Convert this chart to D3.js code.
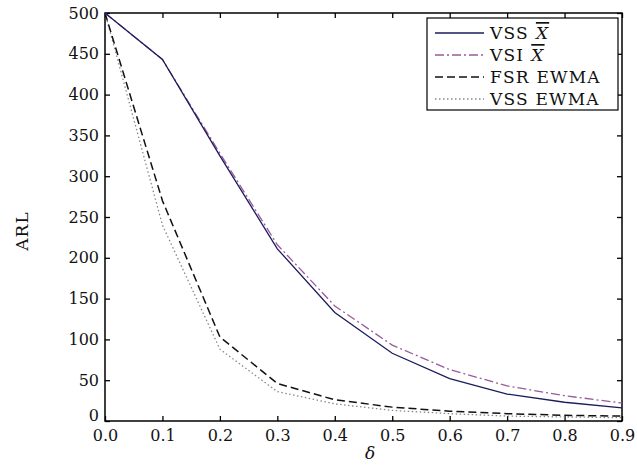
<!DOCTYPE html>
<html>
<head>
<meta charset="utf-8">
<script src="https://cdn.jsdelivr.net/npm/d3@7"></script>
<style>
  body { margin: 0; background: #fff; }
  svg { display: block; font-family: "DejaVu Serif", serif; }
</style>
</head>
<body>
<div id="chart"></div>
<script>
// shift values on the x axis
var deltas = [0, 0.1, 0.2, 0.3, 0.4, 0.5, 0.6, 0.7, 0.8, 0.9];

// ARL for each scheme
var vssX = [500, 443, 325, 211, 133, 83, 52, 33, 23, 16];
var vsiX = [500, 443, 328, 216, 141, 93, 63, 43, 31, 22];
var fsrEwma = [500, 270, 103, 46, 26, 17, 12, 9, 7, 6];
var vssEwma = [500, 240, 88, 36, 21, 13, 9, 6, 5, 4];

var xTicks = [0, 0.1, 0.2, 0.3, 0.4, 0.5, 0.6, 0.7, 0.8, 0.9];
var yTicks = [0, 50, 100, 150, 200, 250, 300, 350, 400, 450, 500];

var series = [
    {name: 'VSS', bar: true, values: vssX, color: '#1c1c5c', dash: null, width: 1.3},
    {name: 'VSI', bar: true, values: vsiX, color: '#9a5a9a', dash: '9,3,2,3', width: 1.3},
    {name: 'FSR EWMA', bar: false, values: fsrEwma, color: '#111', dash: '8,4', width: 1.5},
    {name: 'VSS EWMA', bar: false, values: vssEwma, color: '#888', dash: '1.5,2.5', width: 1.3}
];

var width = 637, height = 465;
var margin = {left: 105, right: 15, top: 13, bottom: 44};
var innerW = width - margin.left - margin.right,
    innerH = height - margin.top - margin.bottom;

var svg = d3.select('#chart').append('svg')
    .attr('width', width)
    .attr('height', height);

var g = svg.append('g')
    .attr('transform', 'translate(' + margin.left + ',' + margin.top + ')');

var x = d3.scaleLinear().domain([0, 0.9]).range([0, innerW]);
var y = d3.scaleLinear().domain([0, 500]).range([innerH, 0]);

// frame
g.append('rect')
    .attr('width', innerW)
    .attr('height', innerH)
    .attr('fill', 'none')
    .attr('stroke', '#000')
    .attr('stroke-width', 1.5);

// axes with inward ticks
var xAxis = g.append('g')
    .attr('transform', 'translate(0,' + innerH + ')')
    .call(d3.axisBottom(x).tickValues(xTicks).tickFormat(d3.format('.1f')).tickSizeInner(-5).tickSizeOuter(0).tickPadding(9));
var xTop = g.append('g')
    .call(d3.axisTop(x).tickValues(xTicks).tickSizeInner(-5).tickSizeOuter(0).tickFormat(''));
var yAxis = g.append('g')
    .call(d3.axisLeft(y).tickValues(yTicks).tickSizeInner(-5).tickSizeOuter(0).tickPadding(6));
var yRight = g.append('g')
    .attr('transform', 'translate(' + innerW + ',0)')
    .call(d3.axisRight(y).tickValues(yTicks).tickSizeInner(-5).tickSizeOuter(0).tickFormat(''));

[xAxis, xTop, yAxis, yRight].forEach(function (a) {
    a.select('.domain').remove();
    a.selectAll('line').attr('stroke', '#000').attr('stroke-width', 1.3);
    a.selectAll('text').attr('font-family', '"DejaVu Serif", serif').attr('font-size', 16).attr('fill', '#111');
});

// the "0" label sits a little higher, clear of "0.0"
yAxis.selectAll('.tick text').filter(function (d) { return d === 0; }).attr('dy', '-0.05em');

// lines
var line = d3.line()
    .x(function (d, i) { return x(deltas[i]); })
    .y(function (d) { return y(d); });

series.slice().reverse().forEach(function (s) {
    g.append('path')
        .datum(s.values)
        .attr('d', line)
        .attr('fill', 'none')
        .attr('stroke', s.color)
        .attr('stroke-width', s.width)
        .attr('stroke-dasharray', s.dash);
});

// axis titles
svg.append('text')
    .attr('transform', 'translate(28,231) rotate(-90)')
    .attr('text-anchor', 'middle')
    .attr('font-size', 17)
    .attr('letter-spacing', 1)
    .attr('fill', '#111')
    .text('ARL');

svg.append('text')
    .attr('x', 370)
    .attr('y', 459)
    .attr('text-anchor', 'middle')
    .attr('font-size', 17)
    .attr('font-style', 'italic')
    .attr('fill', '#111')
    .text('δ');

// legend
var legend = svg.append('g').attr('transform', 'translate(427,18)');
legend.append('rect')
    .attr('width', 191)
    .attr('height', 92)
    .attr('fill', '#fff')
    .attr('stroke', '#000')
    .attr('stroke-width', 1.2);

series.forEach(function (s, i) {
    var ly = 15 + i * 22;
    legend.append('line')
        .attr('x1', 8).attr('x2', 57)
        .attr('y1', ly).attr('y2', ly)
        .attr('stroke', s.color)
        .attr('stroke-width', s.width)
        .attr('stroke-dasharray', s.dash);
    var t = legend.append('text')
        .attr('x', 63)
        .attr('y', ly + 6)
        .attr('font-size', 17)
        .attr('letter-spacing', 1.2)
        .attr('fill', '#111');
    t.append('tspan').text(s.name);
    if (s.bar) {
        t.append('tspan')
            .attr('dx', 7)
            .attr('font-style', 'italic')
            .attr('text-decoration', 'overline')
            .text('X');
    }
});
</script>
</body>
</html>
